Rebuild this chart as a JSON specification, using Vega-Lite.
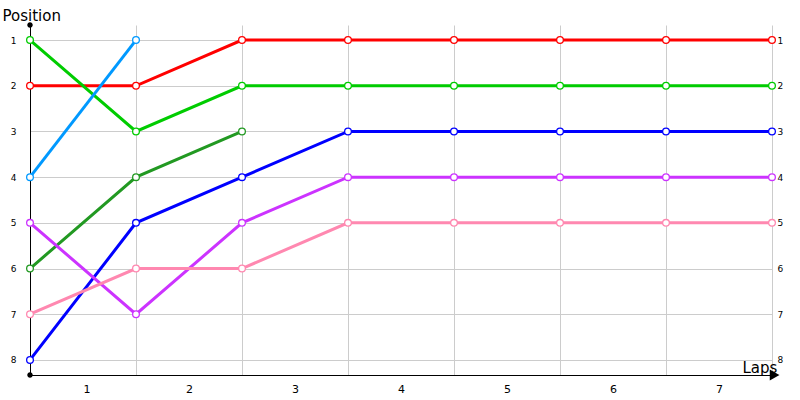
{
  "$schema": "https://vega.github.io/schema/vega-lite/v6.json",
  "width": 742,
  "height": 350,
  "autosize": "none",
  "padding": {"left": 30, "top": 25, "right": 28, "bottom": 25},
  "background": "white",
  "config": {
    "view": {"stroke": null},
    "font": "DejaVu Sans",
    "axis": {"labelFont": "DejaVu Sans", "titleFont": "DejaVu Sans", "gridColor": "#cccccc", "gridOpacity": 1}
  },
  "data": {
    "values": [
      {"driver": "A", "lap": 0, "pos": 2}, {"driver": "A", "lap": 1, "pos": 2}, {"driver": "A", "lap": 2, "pos": 1},
      {"driver": "A", "lap": 3, "pos": 1}, {"driver": "A", "lap": 4, "pos": 1}, {"driver": "A", "lap": 5, "pos": 1},
      {"driver": "A", "lap": 6, "pos": 1}, {"driver": "A", "lap": 7, "pos": 1},
      {"driver": "B", "lap": 0, "pos": 1}, {"driver": "B", "lap": 1, "pos": 3}, {"driver": "B", "lap": 2, "pos": 2},
      {"driver": "B", "lap": 3, "pos": 2}, {"driver": "B", "lap": 4, "pos": 2}, {"driver": "B", "lap": 5, "pos": 2},
      {"driver": "B", "lap": 6, "pos": 2}, {"driver": "B", "lap": 7, "pos": 2},
      {"driver": "C", "lap": 0, "pos": 4}, {"driver": "C", "lap": 1, "pos": 1},
      {"driver": "D", "lap": 0, "pos": 6}, {"driver": "D", "lap": 1, "pos": 4}, {"driver": "D", "lap": 2, "pos": 3},
      {"driver": "E", "lap": 0, "pos": 8}, {"driver": "E", "lap": 1, "pos": 5}, {"driver": "E", "lap": 2, "pos": 4},
      {"driver": "E", "lap": 3, "pos": 3}, {"driver": "E", "lap": 4, "pos": 3}, {"driver": "E", "lap": 5, "pos": 3},
      {"driver": "E", "lap": 6, "pos": 3}, {"driver": "E", "lap": 7, "pos": 3},
      {"driver": "F", "lap": 0, "pos": 5}, {"driver": "F", "lap": 1, "pos": 7}, {"driver": "F", "lap": 2, "pos": 5},
      {"driver": "F", "lap": 3, "pos": 4}, {"driver": "F", "lap": 4, "pos": 4}, {"driver": "F", "lap": 5, "pos": 4},
      {"driver": "F", "lap": 6, "pos": 4}, {"driver": "F", "lap": 7, "pos": 4},
      {"driver": "G", "lap": 0, "pos": 7}, {"driver": "G", "lap": 1, "pos": 6}, {"driver": "G", "lap": 2, "pos": 6},
      {"driver": "G", "lap": 3, "pos": 5}, {"driver": "G", "lap": 4, "pos": 5}, {"driver": "G", "lap": 5, "pos": 5},
      {"driver": "G", "lap": 6, "pos": 5}, {"driver": "G", "lap": 7, "pos": 5}
    ]
  },
  "encoding": {
    "x": {
      "field": "lap",
      "type": "quantitative",
      "scale": {"domain": [0, 7], "nice": false, "zero": false},
      "axis": {
        "values": [0, 1, 2, 3, 4, 5, 6, 7],
        "grid": true,
        "ticks": false,
        "domainColor": "black",
        "labelExpr": "datum.value < 7 ? datum.value + 1 : ''",
        "labelOffset": 53,
        "labelPadding": 8,
        "labelFontSize": 11,
        "labelColor": "#000",
        "title": "Laps",
        "titleFontSize": 15,
        "titleFontWeight": "normal",
        "titleColor": "#000",
        "titleAlign": "left",
        "titleBaseline": "alphabetic",
        "titleX": 712,
        "titleY": -3
      }
    },
    "stroke": {
      "field": "driver",
      "type": "nominal",
      "scale": {
        "domain": ["A", "B", "C", "D", "E", "F", "G"],
        "range": ["#ff0000", "#00cc00", "#0099ff", "#229922", "#0000ff", "#cc33ff", "#ff88b0"]
      },
      "legend": null
    }
  },
  "layer": [
    {
      "mark": {"type": "line", "strokeWidth": 3},
      "encoding": {
        "y": {
          "field": "pos",
          "type": "quantitative",
          "scale": {"domain": [0.67, 8.33], "reverse": true, "nice": false, "zero": false},
          "axis": {
            "values": [1, 2, 3, 4, 5, 6, 7, 8],
            "grid": true,
            "ticks": false,
            "domainColor": "black",
            "labelPadding": 14,
            "labelFontSize": 9,
            "labelColor": "#000",
            "title": "Position",
            "titleAngle": 0,
            "titleFontSize": 15,
            "titleFontWeight": "normal",
            "titleColor": "#000",
            "titleAlign": "left",
            "titleBaseline": "alphabetic",
            "titleX": -28,
            "titleY": -5
          }
        }
      }
    },
    {
      "mark": {"type": "point", "shape": "circle", "filled": true, "fill": "white", "size": 45, "strokeWidth": 1.3, "opacity": 1},
      "encoding": {
        "y": {
          "field": "pos",
          "type": "quantitative",
          "scale": {"domain": [0.67, 8.33], "reverse": true, "nice": false, "zero": false},
          "axis": {
            "orient": "right",
            "values": [1, 2, 3, 4, 5, 6, 7, 8],
            "grid": false,
            "ticks": false,
            "domain": false,
            "labelPadding": 5,
            "labelFontSize": 9,
            "labelColor": "#000",
            "title": null
          }
        }
      }
    },
    {
      "data": {"values": [{"lap": 0, "pos": 0.67, "shape": "circle"}, {"lap": 0, "pos": 8.33, "shape": "circle"}, {"lap": 7.02, "pos": 8.33, "shape": "triangle-right"}]},
      "mark": {"type": "point", "filled": true, "color": "black", "opacity": 1},
      "encoding": {
        "y": {"field": "pos", "type": "quantitative", "scale": {"domain": [0.67, 8.33], "reverse": true, "nice": false, "zero": false}, "axis": null},
        "shape": {"field": "shape", "type": "nominal", "scale": null, "legend": null},
        "size": {"condition": {"test": "datum.shape == 'circle'", "value": 12}, "value": 60},
        "stroke": {"value": "black"}
      }
    }
  ],
  "resolve": {"scale": {"y": "independent"}}
}
